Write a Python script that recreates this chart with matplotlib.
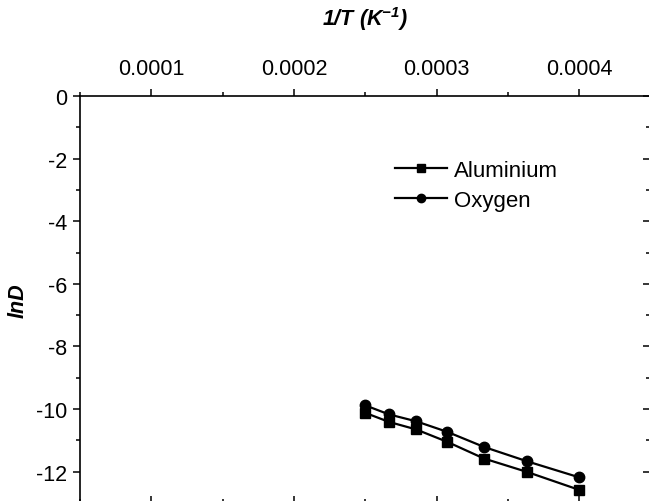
import matplotlib
matplotlib.use('Agg')
import matplotlib.pyplot as plt
from matplotlib.ticker import MultipleLocator, FormatStrFormatter

plt.rcParams['font.family'] = ['Liberation Sans', 'DejaVu Sans']
plt.rcParams['axes.unicode_minus'] = False
plt.rcParams['mathtext.fontset'] = 'custom'
plt.rcParams['mathtext.rm'] = 'Liberation Sans:bold:italic'

# 1/T for T = 4000 ... 2500 K
inv_T = [1/4000, 1/3750, 1/3500, 1/3250, 1/3000, 1/2750, 1/2500]
lnD_aluminium = [-10.12, -10.41, -10.65, -11.05, -11.58, -12.01, -12.58]
lnD_oxygen = [-9.88, -10.17, -10.39, -10.73, -11.21, -11.67, -12.18]

fig = plt.figure(figsize=(6.49, 5.02), dpi=100)
W, H = 649, 502
# axes box in pixels: left 80, right 650.4, top 97, bottom 504 (cropped)
ax = fig.add_axes([80 / W, -2 / H, 570.4 / W, 407 / H])

ax.plot(inv_T, lnD_aluminium, 'k-', marker='s', markersize=7, linewidth=1.6,
        label='Aluminium')
ax.plot(inv_T, lnD_oxygen, 'k-', marker='o', markersize=7.5, linewidth=1.6,
        label='Oxygen')

ax.set_xlim(0.00005, 0.00045)
ax.set_ylim(-13, 0)

ax.xaxis.set_major_locator(MultipleLocator(0.0001))
ax.xaxis.set_minor_locator(MultipleLocator(0.00005))
ax.xaxis.set_major_formatter(FormatStrFormatter('%.4f'))
ax.yaxis.set_major_locator(MultipleLocator(2))
ax.yaxis.set_minor_locator(MultipleLocator(1))

ax.xaxis.tick_top()
ax.xaxis.set_label_position('top')
ax.tick_params(axis='x', which='both', direction='out', top=True, bottom=False,
               labeltop=True, labelbottom=False)
ax.tick_params(axis='y', which='both', direction='out', left=True, right=False)
ax.tick_params(which='major', length=5, width=1.1, labelsize=15.5, pad=4)
ax.tick_params(axis='x', which='major', pad=7)
ax.tick_params(which='minor', length=3, width=1.1)

for s in ax.spines.values():
    s.set_linewidth(1.2)

# right and bottom axes have inward ticks
sec_y = ax.secondary_yaxis('right')
sec_y.yaxis.set_major_locator(MultipleLocator(2))
sec_y.yaxis.set_minor_locator(MultipleLocator(1))
sec_y.tick_params(which='both', direction='in', labelright=False, width=1.1)
sec_y.tick_params(which='major', length=5)
sec_y.tick_params(which='minor', length=3)

sec_x = ax.secondary_xaxis('bottom')
sec_x.xaxis.set_major_locator(MultipleLocator(0.0001))
sec_x.xaxis.set_minor_locator(MultipleLocator(0.00005))
sec_x.tick_params(which='both', direction='in', labelbottom=False, width=1.1)
sec_x.tick_params(which='major', length=5)
sec_x.tick_params(which='minor', length=3)

ax.set_xlabel('1/T (K$^{\\mathrm{-1}}$)', fontsize=15.5, fontweight='bold',
              fontstyle='italic', labelpad=24)
ax.set_ylabel('lnD', fontsize=15.5, fontweight='bold', fontstyle='italic')
ax.yaxis.set_label_coords(-0.09, 0.5)

ax.legend(loc='upper left', bbox_to_anchor=(395 / W, 1 - 161 / H),
          bbox_transform=fig.transFigure, frameon=False, fontsize=16,
          handlelength=2.35, handletextpad=0.32, labelspacing=0.4,
          borderpad=0, borderaxespad=0, markerscale=0.8)

fig.savefig('out.png', dpi=100)
